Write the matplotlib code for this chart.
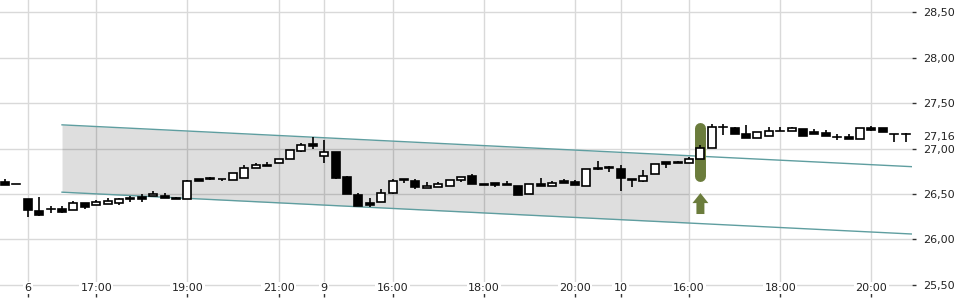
import matplotlib
matplotlib.use('Agg')
import matplotlib.pyplot as plt
from matplotlib.patches import Rectangle, FancyArrow
import numpy as np

# 15 min candles
opens  = [26.63, 26.61, 26.44, 26.31, 26.33, 26.34, 26.32, 26.40, 26.38, 26.39,
          26.40, 26.46, 26.47, 26.48, 26.48, 26.46, 26.45, 26.66, 26.68, 26.67,
          26.65, 26.68, 26.79, 26.82, 26.84, 26.89, 26.97, 27.05, 26.92, 26.96,
          26.69, 26.49, 26.40, 26.41, 26.51, 26.67, 26.64, 26.57, 26.58, 26.59,
          26.65, 26.70, 26.61, 26.62, 26.61, 26.59, 26.50, 26.61, 26.59, 26.64,
          26.63, 26.59, 26.79, 26.80, 26.78, 26.67, 26.64, 26.72, 26.85, 26.85,
          26.84, 26.88, 27.01, 27.24, 27.23, 27.16, 27.11, 27.14, 27.19, 27.19,
          27.21, 27.18, 27.17, 27.13, 27.13, 27.10, 27.22, 27.23, 27.16, 27.16]
highs  = [26.66, 26.61, 26.44, 26.47, 26.37, 26.37, 26.42, 26.40, 26.43, 26.46,
          26.46, 26.48, 26.50, 26.53, 26.51, 26.47, 26.65, 26.67, 26.69, 26.67,
          26.73, 26.82, 26.84, 26.85, 26.89, 26.98, 27.06, 27.13, 27.09, 26.96,
          26.70, 26.51, 26.46, 26.56, 26.67, 26.67, 26.67, 26.63, 26.63, 26.65,
          26.69, 26.72, 26.61, 26.62, 26.64, 26.59, 26.61, 26.68, 26.64, 26.67,
          26.65, 26.78, 26.86, 26.81, 26.82, 26.67, 26.76, 26.83, 26.85, 26.86,
          26.91, 27.04, 27.27, 27.27, 27.24, 27.26, 27.18, 27.24, 27.24, 27.24,
          27.21, 27.21, 27.20, 27.16, 27.16, 27.22, 27.25, 27.23, 27.16, 27.17]
lows   = [26.60, 26.61, 26.25, 26.26, 26.29, 26.29, 26.32, 26.33, 26.38, 26.39,
          26.38, 26.41, 26.41, 26.48, 26.46, 26.45, 26.45, 26.64, 26.65, 26.64,
          26.65, 26.68, 26.79, 26.81, 26.84, 26.89, 26.96, 27.00, 26.84, 26.66,
          26.50, 26.37, 26.36, 26.41, 26.50, 26.62, 26.56, 26.57, 26.58, 26.59,
          26.63, 26.61, 26.60, 26.58, 26.60, 26.49, 26.50, 26.59, 26.59, 26.62,
          26.60, 26.59, 26.76, 26.74, 26.53, 26.58, 26.63, 26.72, 26.79, 26.84,
          26.84, 26.88, 27.01, 27.15, 27.16, 27.11, 27.11, 27.14, 27.19, 27.19,
          27.14, 27.16, 27.14, 27.09, 27.10, 27.10, 27.19, 27.18, 27.07, 27.07]
closes = [26.60, 26.61, 26.32, 26.27, 26.33, 26.30, 26.40, 26.36, 26.41, 26.42,
          26.45, 26.45, 26.45, 26.50, 26.46, 26.45, 26.64, 26.64, 26.66, 26.66,
          26.73, 26.79, 26.82, 26.81, 26.89, 26.98, 27.04, 27.03, 26.96, 26.68,
          26.50, 26.37, 26.38, 26.51, 26.64, 26.65, 26.58, 26.59, 26.61, 26.65,
          26.69, 26.61, 26.60, 26.60, 26.60, 26.49, 26.61, 26.59, 26.62, 26.62,
          26.60, 26.78, 26.77, 26.79, 26.68, 26.65, 26.70, 26.83, 26.83, 26.84,
          26.88, 27.01, 27.24, 27.24, 27.16, 27.11, 27.18, 27.19, 27.19, 27.22,
          27.14, 27.16, 27.14, 27.13, 27.10, 27.22, 27.20, 27.18, 27.16, 27.16]

tick_pos = [2, 8, 16, 24, 28, 34, 42, 50, 54, 60, 68, 76]
tick_labels = ['6', '17:00', '19:00', '21:00', '9', '16:00', '18:00', '20:00',
               '10', '16:00', '18:00', '20:00']
y_ticks = [25.5, 26.0, 26.5, 27.0, 27.5, 28.0, 28.5]

# trend channel
channel_x = [5, 79.6]
channel_upper = [27.26, 26.80]
channel_lower = [26.52, 26.06]
channel_fill_end = 60

# breakout signal
signal_idx = 61
signal_low, signal_high = 26.70, 27.22
arrow_bottom, arrow_top = 26.28, 26.51

olive = '#6b7c3c'
teal = '#5f9ea0'

fig = plt.figure(figsize=(9.6, 3), dpi=100)
ax = fig.add_axes([0, 8 / 300, 912 / 960, 292 / 300])

n = len(opens)
x = np.arange(n)
ax.set_xlim(-0.44, 79.56)
ax.set_ylim(25.423, 28.632)

ax.set_axisbelow(True)
ax.grid(True, color='#d9d9d9', lw=1)
ax.xaxis.set_zorder(0.6)
for s in ax.spines.values():
    s.set_visible(False)

# channel
cx = np.array(channel_x)
ax.plot(cx, channel_upper, color=teal, lw=1, zorder=2)
ax.plot(cx, channel_lower, color=teal, lw=1, zorder=2)
fx = np.array([channel_x[0], channel_fill_end])
up = np.interp(fx, cx, channel_upper)
lo = np.interp(fx, cx, channel_lower)
ax.fill_between(fx, lo, up, color='black', alpha=0.13, lw=0, zorder=1)

# signal marker
ax.plot([signal_idx, signal_idx], [signal_low, signal_high], color=olive,
        lw=7.9, solid_capstyle='round', zorder=3)
ax.add_patch(FancyArrow(signal_idx, arrow_bottom, 0, arrow_top - arrow_bottom,
                        width=0.7, head_width=1.4, head_length=0.11,
                        length_includes_head=True, color=olive, lw=0, zorder=3))

# candles
w = 0.7
ax.vlines(x, lows, highs, color='black', lw=1.2, zorder=4)
for i in range(n):
    o, c = opens[i], closes[i]
    fc = 'white' if c >= o else 'black'
    if c == o:
        ax.plot([i - w / 2, i + w / 2], [o, o], color='black', lw=1.2, zorder=5)
    else:
        ax.add_patch(Rectangle((i - w / 2, min(o, c)), w, abs(c - o),
                               facecolor=fc, edgecolor='black', lw=1.2, zorder=5))

ax.set_xticks(tick_pos)
ax.set_xticklabels(tick_labels)
ax.set_yticks(y_ticks)
ax.set_yticklabels(['%.2f' % v for v in y_ticks])
ax.set_yticklabels([('%.2f' % v).replace('.', ',') for v in y_ticks])
ax.yaxis.tick_right()
ax.tick_params(axis='y', length=3, width=1, color='#333333', pad=5,
               labelsize=8, labelcolor='#222222')
ax.tick_params(axis='x', length=3.6, width=1, color='#333333', pad=-10,
               labelsize=8, labelcolor='#222222')
for lab in ax.get_xticklabels():
    lab.set_bbox(dict(facecolor='white', edgecolor='none', pad=1))

last = closes[-1]
ax.annotate(('%.2f' % last).replace('.', ','), xy=(1, last),
            xycoords=('axes fraction', 'data'), xytext=(7.9, -2),
            textcoords='offset points', va='center', ha='left',
            fontsize=8, color='#222222', annotation_clip=False)

fig.savefig('out.png', dpi=100)
